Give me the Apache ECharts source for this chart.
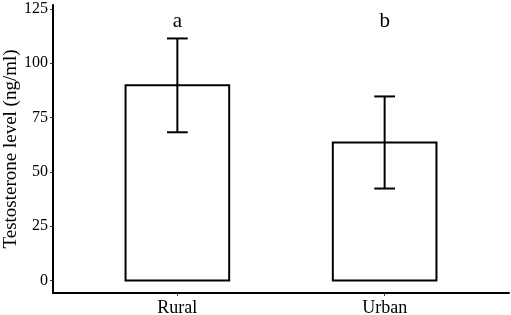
<!DOCTYPE html>
<html>
<head>
<meta charset="utf-8">
<script src="https://cdn.jsdelivr.net/npm/echarts@6/dist/echarts.min.js"></script>
<style>
html,body{margin:0;padding:0;background:#fff;}
#chart{width:511px;height:315px;}
</style>
</head>
<body>
<div id="chart"></div>
<script>
// ---- data ----
const categories = ['Rural', 'Urban'];
const means = [89.8, 63.5];
const sds = [21.6, 21.2];
const letters = ['a', 'b'];
const letterLevel = [119, 119];
const yTicks = [0, 25, 50, 75, 100, 125];
const yTitle = 'Testosterone level (ng/ml)';

const FONT = 'Liberation Serif';
const chart = echarts.init(document.getElementById('chart'), null, {renderer: 'canvas'});

const seriesData = categories.map((c, i) => [i + 1, means[i], sds[i], i]);

function renderItem(params, api) {
  const x = api.value(0);
  const m = api.value(1);
  const s = api.value(2);
  const idx = api.value(3);
  const halfBar = 0.25, halfCap = 0.05;
  const tl = api.coord([x - halfBar, m]);
  const br = api.coord([x + halfBar, 0]);
  const top = api.coord([x, m + s]);
  const bot = api.coord([x, m - s]);
  const capL = api.coord([x - halfCap, 0])[0];
  const capR = api.coord([x + halfCap, 0])[0];
  const lp = api.coord([x, letterLevel[idx]]);
  const ls = {stroke: '#000', lineWidth: 2, fill: null};
  return {
    type: 'group',
    children: [
      {type: 'rect', shape: {x: tl[0], y: tl[1], width: br[0] - tl[0], height: br[1] - tl[1]},
       style: {fill: '#fff', stroke: '#000', lineWidth: 2}},
      {type: 'line', shape: {x1: top[0], y1: top[1], x2: bot[0], y2: bot[1]}, style: ls},
      {type: 'line', shape: {x1: capL, y1: top[1], x2: capR, y2: top[1]}, style: ls},
      {type: 'line', shape: {x1: capL, y1: bot[1], x2: capR, y2: bot[1]}, style: ls},
      {type: 'text', x: lp[0], y: lp[1],
       style: {text: letters[idx], fill: '#000', fontFamily: FONT, fontSize: 21, align: 'center', verticalAlign: 'middle'}}
    ]
  };
}

chart.setOption({
  animation: false,
  backgroundColor: '#fff',
  grid: {left: 53, right: 2, top: 5, bottom: 22, containLabel: false, outerBoundsMode: 'none'},
  xAxis: {
    type: 'value', min: 0.4, max: 2.6,
    splitLine: {show: false},
    axisLine: {show: true, onZero: false, lineStyle: {color: '#000', width: 2}},
    axisTick: {show: true, customValues: [1, 2], length: 3, lineStyle: {color: '#333', width: 1}},
    axisLabel: {show: true, customValues: [1, 2], formatter: v => categories[Math.round(v) - 1],
      color: '#000', fontFamily: FONT, fontSize: 18, margin: 6}
  },
  yAxis: {
    type: 'value', min: -5.8, max: 126.8,
    splitLine: {show: false},
    axisLine: {show: true, onZero: false, lineStyle: {color: '#000', width: 2}},
    axisTick: {show: true, customValues: yTicks, length: 3, lineStyle: {color: '#333', width: 1}},
    axisLabel: {show: true, customValues: yTicks, color: '#000', fontFamily: FONT, fontSize: 16, margin: 5,
      formatter: v => String(v)},
    name: yTitle, nameLocation: 'middle', nameGap: 32, nameMoveOverlap: false,
    nameTextStyle: {color: '#000', fontFamily: FONT, fontSize: 19}
  },
  series: [{
    type: 'custom',
    renderItem: renderItem,
    data: seriesData,
    encode: {x: 0, y: 1},
    clip: false
  }]
});
</script>
</body>
</html>
